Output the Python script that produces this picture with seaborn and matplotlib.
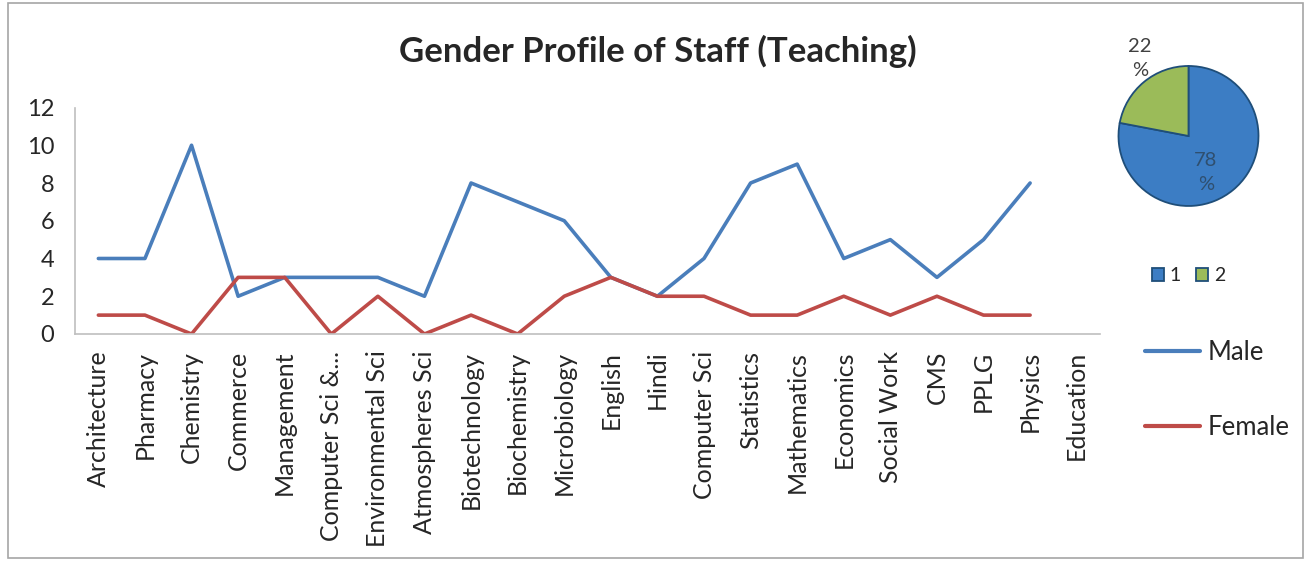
import numpy as np
import pandas as pd
import matplotlib
matplotlib.use("Agg")
import matplotlib.pyplot as plt
from matplotlib.patches import Rectangle
import seaborn as sns

sns.set_style("white")
plt.rcParams["font.family"] = ["Lato", "DejaVu Sans"]

departments = ["Architecture", "Pharmacy", "Chemistry", "Commerce", "Management",
               "Computer Sci &...", "Environmental Sci", "Atmospheres Sci",
               "Biotechnology", "Biochemistry", "Microbiology", "English", "Hindi",
               "Computer Sci", "Statistics", "Mathematics", "Economics",
               "Social Work", "CMS", "PPLG", "Physics", "Education"]
male = [4, 4, 10, 2, 3, 3, 3, 2, 8, 7, 6, 3, 2, 4, 8, 9, 4, 5, 3, 5, 8, np.nan]
female = [1, 1, 0, 3, 3, 0, 2, 0, 1, 0, 2, 3, 2, 2, 1, 1, 2, 1, 2, 1, 1, np.nan]

pie_labels = ["1", "2"]
pie_share = [78, 22]

blue = "#4A7EBB"
red = "#BE4B48"

df = pd.DataFrame({"pos": np.arange(len(departments)), "Male": male, "Female": female})
long = df.melt(id_vars="pos", var_name="Gender", value_name="Staff").dropna()

fig = plt.figure(figsize=(13.1, 5.62), dpi=100)

# main line chart
ax = fig.add_axes([0.0573, 0.4057, 0.7824, 0.403])
sns.lineplot(data=long, x="pos", y="Staff", hue="Gender",
             palette={"Male": blue, "Female": red}, linewidth=2.6,
             ax=ax, legend=False)
ax.set_xlim(-0.5, len(departments) - 0.5)
ax.set_ylim(0, 12)
ax.set_yticks(range(0, 13, 2))
ax.set_xticks(df["pos"])
ax.set_xticklabels(departments, rotation=90, fontsize=18)
ax.tick_params(axis="y", labelsize=17, length=0, pad=15)
ax.tick_params(axis="x", length=0, pad=12)
ax.set_xlabel("")
ax.set_ylabel("")
for side in ["top", "right"]:
    ax.spines[side].set_visible(False)
for side in ["left", "bottom"]:
    ax.spines[side].set_color("#BFBFBF")
    ax.spines[side].set_linewidth(1.2)

fig.suptitle("Gender Profile of Staff (Teaching)", x=0.502, y=0.908,
             fontsize=25, fontweight="bold", va="center")

handles = [plt.Line2D([], [], color=blue, lw=3),
           plt.Line2D([], [], color=red, lw=3)]
fig.legend(handles, ["Male", "Female"], loc="upper left",
           bbox_to_anchor=(0.8565, 0.436), frameon=False, fontsize=18.5,
           handlelength=2.15, labelspacing=1.95, handletextpad=0.27)

# small pie in the corner
pax = fig.add_axes([0.8538, 0.6335, 0.1069, 0.2491])
wedges, texts, autotexts = pax.pie(
    pie_share, colors=["#3C7DC4", "#9BBB59"], startangle=90, counterclock=False,
    radius=1.25, autopct=lambda p: f"{p:.0f}\n%",
    wedgeprops=dict(edgecolor="#1F4E79", linewidth=1.3),
    textprops=dict(fontsize=14.5, color="#404040", linespacing=1.5))
for t, dist, deg in [(autotexts[0], 0.73, -64.6), (autotexts[1], 1.64, 122)]:
    a = np.deg2rad(deg)
    t.set_position((dist * np.cos(a), dist * np.sin(a)))
autotexts[0].set_color("#2F4F6F")
pax.set_aspect("equal")
pax.legend(wedges, pie_labels, loc="center", bbox_to_anchor=(0.5, -0.5),
           ncol=2, frameon=False, fontsize=14, handlelength=0.6,
           handleheight=0.6, handletextpad=0.3, columnspacing=0.8)

fig.add_artist(Rectangle((0.006, 0.008), 0.989, 0.986, transform=fig.transFigure,
                         fill=False, edgecolor="#A6A6A6", linewidth=1.2))

fig.savefig("out.png", dpi=100)
